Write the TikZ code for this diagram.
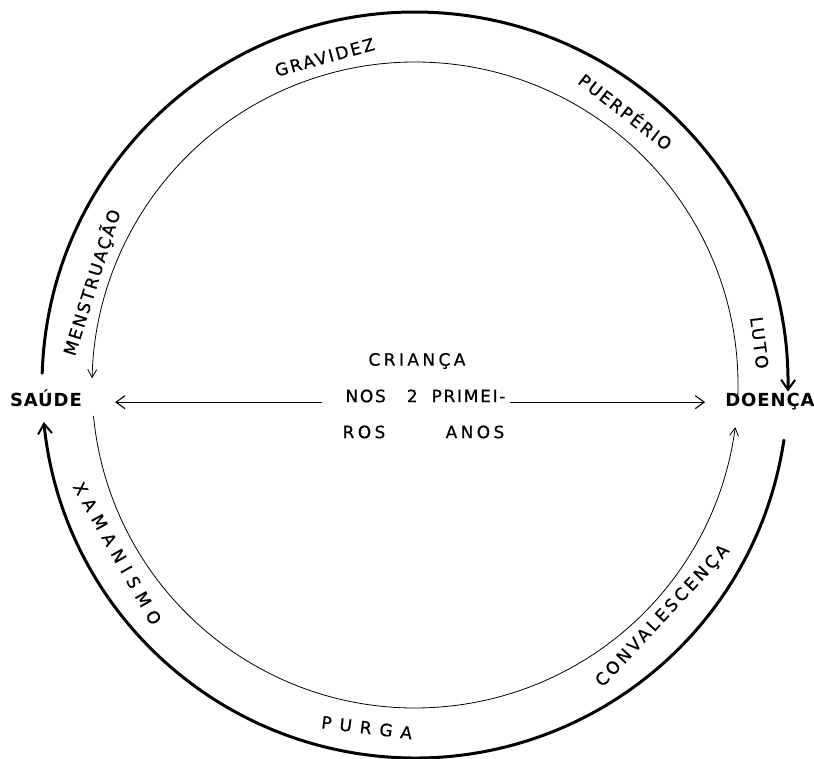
\documentclass[tikz,border=0pt]{standalone}
\usepackage{fontspec}
\setmainfont{DejaVu Sans}
\usepackage{tikz}
\usetikzlibrary{arrows.meta, positioning, calc}

\tikzset{
  outer ring/.style={line width=3pt, line cap=round},
  inner ring/.style={line width=0.8pt},
  big tip/.style={-{Straight Barb[length=10pt,width=14pt,line width=2pt]}},
  thin tip/.style={-{Straight Barb[length=8pt,width=9pt,line width=0.8pt]}},
  mid tip/.style={line width=1.1pt, -{Straight Barb[length=9pt,width=13pt,line width=1.1pt]}},
  pole/.style={font=\fontsize{18}{20}\selectfont\bfseries\addfontfeatures{LetterSpace=5}, inner sep=0pt},
  tag/.style={font=\fontsize{17}{19}\selectfont\addfontfeatures{LetterSpace=#1,FakeBold=0.7}, inner sep=0pt},
  tag/.default=13,
  mid/.style={font=\fontsize{17}{19}\selectfont\addfontfeatures{LetterSpace=#1,FakeBold=0.7}, inner sep=0pt},
  mid/.default=20,
}

\begin{document}
\begin{tikzpicture}[x=1pt, y=1pt]
  \useasboundingbox (-415,-374) rectangle (399,385);

  % Outer ring
  \draw[outer ring, big tip] (178.2:373) arc[start angle=178.2, end angle=-1, radius=373];
  \draw[outer ring, big tip] (-8.5:373) arc[start angle=-8.5, end angle=-174.3, radius=373];

  % Inner ring
  \draw[inner ring, thin tip] (-2:323) arc[start angle=-2, end angle=178.8, radius=323];
  \draw[inner ring, thin tip] (185.5:323) arc[start angle=185.5, end angle=352.5, radius=323];

  % Poles
  \node[pole] (saude) at (-369,-13) {SAÚDE};
  \node[pole] (doenca) at (355,-17) {DOENÇA};

  % Centre text
  \node[mid] (crianca) at (2,24) {CRIANÇA};
  \node[mid=10] (nos) at (10.5,-11) {NOS\hspace{21pt}2\hspace{14pt}PRIMEI-};
  \node[mid] (ros) at (-51,-47) {ROS};
  \node[mid] (anos) at (60,-47) {ANOS};

  % Arrows to the poles
  \draw[mid tip, shorten <=23pt, shorten >=33pt] (nos.base west) -- (nos.base west -| saude.east);
  \draw[mid tip, shorten <=4pt, shorten >=20pt] (nos.base east) -- (nos.base east -| doenca.west);

  % Labels between the rings
  \node[tag, rotate=15.4] (gravidez) at (105.4:340) {GRAVIDEZ};
  \node[tag=11.5, rotate=-37.6] (puerperio) at (52.4:346) {PUERPÉRIO};
  \node[tag=14, rotate=-83] (luto) at (7:347) {LUTO};
  \node[tag=12, rotate=72.4] (menstruacao) at (162.4:339) {MENSTRUAÇÃO};
  \node[tag=40, rotate=-60.5] (xamanismo) at (209.5:342) {XAMANISMO};
  \node[tag=47, rotate=-7] (purga) at (262:346) {PURGA};
  \node[tag=18, rotate=47] (convalescenca) at (-43:339) {CONVALESCENÇA};
\end{tikzpicture}
\end{document}
